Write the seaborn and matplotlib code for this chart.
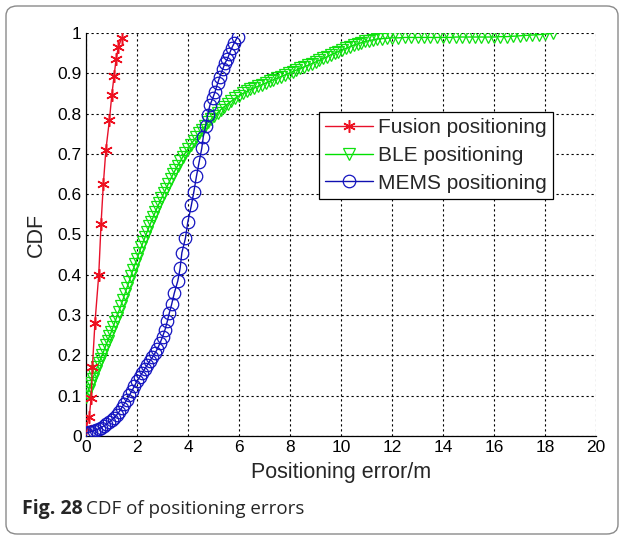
import matplotlib
matplotlib.use("Agg")
import matplotlib.pyplot as plt
from matplotlib.patches import FancyBboxPatch
import seaborn as sns
import pandas as pd

# Fusion positioning CDF
fusion_err = [0.00, 0.13, 0.20, 0.25, 0.35, 0.50, 0.59, 0.68, 0.78, 0.92,
              1.01, 1.10, 1.18, 1.27, 1.40]
fusion_cdf = [0.020, 0.048, 0.094, 0.170, 0.280, 0.400, 0.526, 0.625, 0.710, 0.785,
              0.845, 0.893, 0.935, 0.965, 0.988]

# BLE positioning CDF
ble_err = [0.00, 0.05, 0.10, 0.15, 0.20, 0.26, 0.32, 0.38, 0.44, 0.50,
           0.57, 0.64, 0.71, 0.78, 0.85, 0.92, 0.99, 1.06, 1.13, 1.20,
           1.28, 1.36, 1.44, 1.52, 1.60, 1.68, 1.76, 1.84, 1.92, 2.00,
           2.08, 2.16, 2.24, 2.32, 2.40, 2.48, 2.56, 2.64, 2.72, 2.80,
           2.88, 2.96, 3.05, 3.14, 3.23, 3.32, 3.41, 3.50, 3.60, 3.70,
           3.80, 3.90, 4.00, 4.11, 4.22, 4.33, 4.44, 4.55, 4.67, 4.79,
           4.91, 5.03, 5.16, 5.29, 5.42, 5.56, 5.70, 5.85, 6.00, 6.15,
           6.30, 6.45, 6.60, 6.75, 6.90, 7.05, 7.20, 7.35, 7.50, 7.65,
           7.80, 7.95, 8.10, 8.25, 8.40, 8.55, 8.70, 8.85, 9.00, 9.15,
           9.30, 9.45, 9.60, 9.75, 9.90, 10.05, 10.20, 10.35, 10.50, 10.65,
           10.80, 10.95, 11.10, 11.25, 11.40, 11.60, 11.80, 12.00, 12.25, 12.50,
           12.75, 13.00, 13.25, 13.50, 13.75, 14.00, 14.25, 14.50, 14.75, 15.00,
           15.25, 15.50, 15.75, 16.00, 16.25, 16.50, 16.75, 17.00, 17.25, 17.50,
           17.75, 18.00, 18.30]
ble_cdf = [0.098, 0.106, 0.115, 0.123, 0.132, 0.142, 0.152, 0.161, 0.171, 0.180,
           0.191, 0.202, 0.213, 0.225, 0.236, 0.247, 0.258, 0.270, 0.282, 0.294,
           0.308, 0.322, 0.337, 0.352, 0.367, 0.382, 0.397, 0.412, 0.426, 0.440,
           0.454, 0.468, 0.481, 0.494, 0.507, 0.520, 0.532, 0.544, 0.556, 0.568,
           0.579, 0.590, 0.602, 0.614, 0.626, 0.638, 0.649, 0.660, 0.671, 0.682,
           0.693, 0.703, 0.713, 0.723, 0.733, 0.742, 0.751, 0.760, 0.769, 0.778,
           0.786, 0.794, 0.802, 0.810, 0.817, 0.824, 0.831, 0.838, 0.844, 0.850,
           0.855, 0.860, 0.864, 0.868, 0.872, 0.876, 0.880, 0.884, 0.888, 0.892,
           0.896, 0.900, 0.904, 0.908, 0.912, 0.916, 0.920, 0.924, 0.928, 0.932,
           0.937, 0.941, 0.946, 0.950, 0.954, 0.958, 0.962, 0.966, 0.970, 0.973,
           0.976, 0.979, 0.981, 0.983, 0.985, 0.986, 0.987, 0.988, 0.988, 0.989,
           0.989, 0.989, 0.989, 0.989, 0.989, 0.989, 0.989, 0.990, 0.990, 0.990,
           0.990, 0.990, 0.990, 0.990, 0.991, 0.991, 0.992, 0.993, 0.994, 0.995,
           0.996, 0.997, 1.000]

# MEMS positioning CDF
mems_err = [0.00, 0.10, 0.20, 0.30, 0.40, 0.50, 0.60, 0.70, 0.80, 0.90,
            1.00, 1.10, 1.20, 1.30, 1.40, 1.50, 1.60, 1.70, 1.80, 1.90,
            2.00, 2.10, 2.20, 2.30, 2.40, 2.50, 2.60, 2.70, 2.80, 2.90,
            3.00, 3.10, 3.19, 3.27, 3.36, 3.46, 3.60, 3.69, 3.76, 3.90,
            3.99, 4.13, 4.23, 4.33, 4.44, 4.54, 4.60, 4.69, 4.77, 4.86,
            4.97, 5.06, 5.16, 5.25, 5.36, 5.45, 5.54, 5.62, 5.71, 5.82,
            5.95]
mems_cdf = [0.007, 0.009, 0.011, 0.013, 0.015, 0.018, 0.021, 0.025, 0.029, 0.034,
            0.039, 0.045, 0.052, 0.060, 0.070, 0.080, 0.090, 0.101, 0.112, 0.124,
            0.136, 0.146, 0.156, 0.166, 0.176, 0.186, 0.195, 0.205, 0.216, 0.230,
            0.246, 0.264, 0.285, 0.306, 0.327, 0.354, 0.385, 0.416, 0.455, 0.491,
            0.530, 0.572, 0.606, 0.644, 0.681, 0.714, 0.743, 0.768, 0.797, 0.821,
            0.838, 0.854, 0.875, 0.892, 0.910, 0.925, 0.935, 0.948, 0.962, 0.976,
            0.991]

x_ticks = [0, 2, 4, 6, 8, 10, 12, 14, 16, 18, 20]
y_ticks = [0, 0.1, 0.2, 0.3, 0.4, 0.5, 0.6, 0.7, 0.8, 0.9, 1]
y_tick_labels = ["0", "0.1", "0.2", "0.3", "0.4", "0.5", "0.6", "0.7", "0.8", "0.9", "1"]

sns.set_style("white")
plt.rcParams["font.family"] = ["Liberation Sans", "DejaVu Sans"]

fig = plt.figure(figsize=(6.24, 5.37), dpi=100)
ax = fig.add_axes([86 / 624, 1 - 436 / 537, 510 / 624, 403 / 537])

# rounded frame around the whole figure
frame = FancyBboxPatch((6 / 624, 3 / 537), 612 / 624, 528 / 537,
                       boxstyle="round,pad=0,rounding_size=0.018",
                       transform=fig.transFigure, fill=False,
                       edgecolor="#8a8a8a", linewidth=1.0, zorder=-1)
fig.patches.append(frame)

fusion = pd.DataFrame({"err": fusion_err, "cdf": fusion_cdf})
ble = pd.DataFrame({"err": ble_err, "cdf": ble_cdf})
mems = pd.DataFrame({"err": mems_err, "cdf": mems_cdf})

asterisk = (6, 2, 0)
sns.lineplot(data=fusion, x="err", y="cdf", ax=ax, sort=False, estimator=None,
             color="#e8102a", linewidth=1.0, marker=asterisk, markersize=9,
             markerfacecolor="#ff0000", markeredgecolor="#ee1020",
             markeredgewidth=1.1, label="Fusion positioning", zorder=4)
sns.lineplot(data=ble, x="err", y="cdf", ax=ax, sort=False, estimator=None,
             color="#00e000", linewidth=1.0, marker="v", markersize=8,
             markerfacecolor="none", markeredgecolor="#10e010",
             markeredgewidth=0.9, label="BLE positioning", zorder=3)
sns.lineplot(data=mems, x="err", y="cdf", ax=ax, sort=False, estimator=None,
             color="#1010b0", linewidth=1.0, marker="o", markersize=9,
             markerfacecolor="none", markeredgecolor="#1414c0",
             markeredgewidth=0.9, label="MEMS positioning", zorder=5)

ax.set_xlim(0, 20)
ax.set_ylim(0, 1)
ax.set_xticks(x_ticks)
ax.set_xticklabels([str(t) for t in x_ticks])
ax.set_yticks(y_ticks)
ax.set_yticklabels(y_tick_labels)
ax.tick_params(axis="both", direction="in", length=4, width=0.8,
               labelsize=12.5, colors="black", pad=3)

ax.grid(True, color="black", linestyle=(0, (2, 2.5)), linewidth=0.8)
ax.set_axisbelow(True)
for side in ["top", "right"]:
    ax.spines[side].set_visible(False)
for side in ["left", "bottom"]:
    ax.spines[side].set_color("black")
    ax.spines[side].set_linewidth(0.9)

ax.set_xlabel("Positioning error/m", fontsize=15.5, labelpad=5)
ax.set_ylabel("CDF", fontsize=15.5, labelpad=8)

leg = ax.legend(loc="upper right", bbox_to_anchor=(0.916, 0.804),
                fontsize=15, frameon=True, fancybox=False, framealpha=1,
                edgecolor="black", handlelength=2.3, handletextpad=0.25,
                labelspacing=0.42, borderpad=0.3, borderaxespad=0)
leg.get_frame().set_linewidth(0.9)

fig.text(22 / 624, 1 - 509 / 537, "Fig. 28", fontsize=14, fontweight="bold",
         family=["Open Sans", "DejaVu Sans"], va="center", ha="left")
fig.text(86 / 624, 1 - 509 / 537, "CDF of positioning errors", fontsize=13.5,
         family=["Open Sans", "DejaVu Sans"], va="center", ha="left")

fig.savefig("out.png", dpi=100)
